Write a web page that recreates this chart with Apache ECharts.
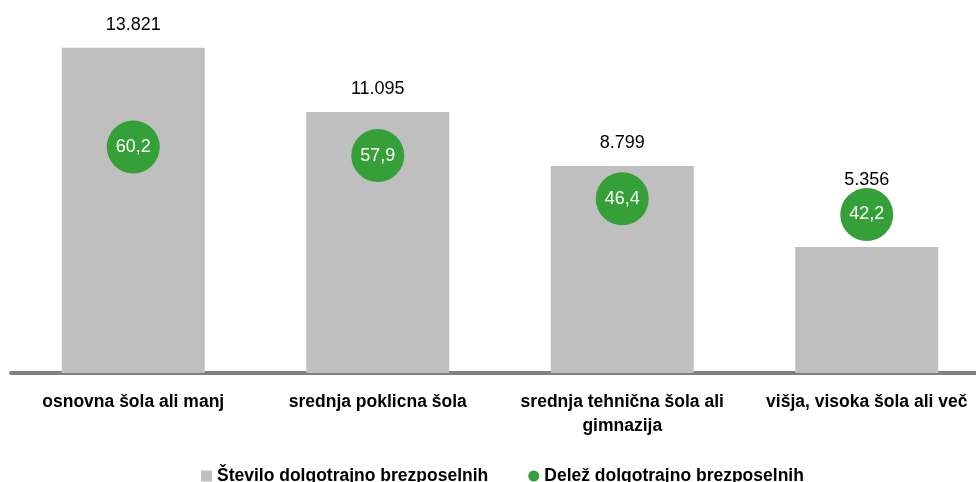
<!DOCTYPE html>
<html>
<head>
<meta charset="utf-8">
<script src="https://cdn.jsdelivr.net/npm/echarts@6/dist/echarts.min.js"></script>
<style>
  html, body { margin: 0; padding: 0; background: #fff; }
  #chart { width: 976px; height: 482px; }
</style>
</head>
<body>
<div id="chart"></div>
<script>
const categories = [
  'osnovna šola ali manj',
  'srednja poklicna šola',
  'srednja tehnična šola ali\ngimnazija',
  'višja, visoka šola ali več'
];
const stevilo = [13821, 11095, 8799, 5356];
const delez = [60.2, 57.9, 46.4, 42.2];
const seriesNames = ['Število dolgotrajno brezposelnih', 'Delež dolgotrajno brezposelnih'];

const FONT = "'Liberation Sans', Arial, sans-serif";

const chart = echarts.init(document.getElementById('chart'));

// zadnji stolpec ima oznako dvignjeno nad krog
const barData = stevilo.map((v, i) =>
  i === stevilo.length - 1 ? { value: v, label: { distance: 58 } } : v
);

const option = {
  animation: false,
  textStyle: { fontFamily: FONT },
  grid: {
    left: 11,
    width: 978,
    top: 20,
    height: 353,
    outerBoundsMode: 'none'
  },
  legend: {
    left: 196,
    top: 462,
    itemGap: 40,
    itemWidth: 11,
    itemHeight: 11,
    textStyle: { fontFamily: FONT, fontSize: 17.5, fontWeight: 'bold', color: '#000' },
    data: [
      { name: seriesNames[0], icon: 'rect' },
      { name: seriesNames[1], icon: 'circle', itemStyle: { color: '#34a037' } }
    ]
  },
  xAxis: {
    type: 'category',
    data: categories,
    axisLine: { lineStyle: { color: '#808080', width: 4 } },
    axisTick: { show: false },
    axisLabel: {
      interval: 0,
      margin: 17,
      color: '#000',
      fontFamily: FONT,
      fontSize: 17.5,
      fontWeight: 'bold',
      lineHeight: 24
    }
  },
  yAxis: [
    { type: 'value', min: 0, max: 15000, show: false, splitLine: { show: false } },
    { type: 'value', min: 0, max: 94, show: false, splitLine: { show: false } }
  ],
  series: [
    {
      name: seriesNames[0],
      type: 'bar',
      data: barData,
      barWidth: 143,
      itemStyle: { color: '#bfbfbf' },
      label: {
        show: true,
        position: 'top',
        distance: 14,
        color: '#000',
        fontFamily: FONT,
        fontSize: 18,
        formatter: p => p.value.toLocaleString('de-DE')
      }
    },
    {
      name: seriesNames[1],
      type: 'scatter',
      yAxisIndex: 1,
      data: delez,
      symbol: 'circle',
      symbolSize: 53,
      itemStyle: { color: '#34a037', opacity: 1 },
      label: {
        show: true,
        position: 'inside',
        color: '#fff',
        fontFamily: FONT,
        fontSize: 18,
        formatter: p => p.value.toFixed(1).replace('.', ',')
      }
    }
  ]
};

chart.setOption(option);
</script>
</body>
</html>
